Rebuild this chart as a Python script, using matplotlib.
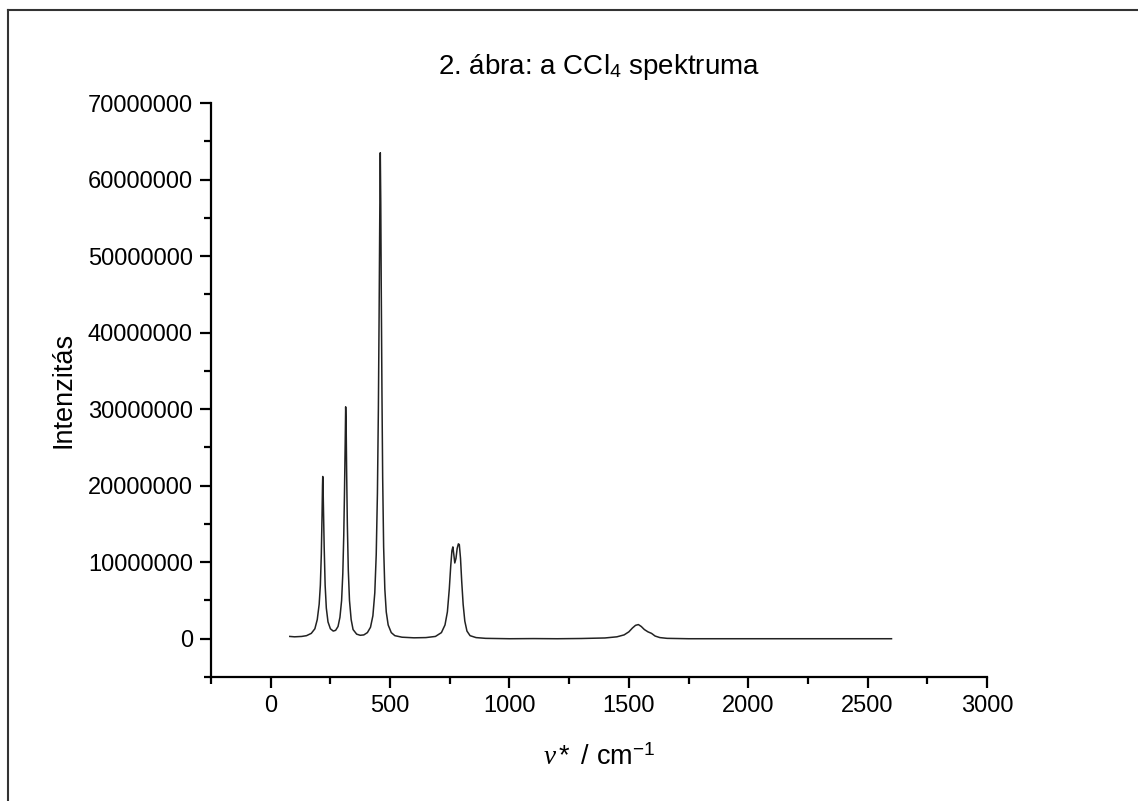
import matplotlib
matplotlib.use('Agg')
import matplotlib.pyplot as plt
from matplotlib.lines import Line2D
from matplotlib.ticker import MultipleLocator

plt.rcParams['font.family'] = ['Liberation Sans', 'DejaVu Sans']
plt.rcParams['mathtext.fontset'] = 'custom'
plt.rcParams['mathtext.rm'] = 'Liberation Sans'
plt.rcParams['mathtext.it'] = 'Liberation Serif:italic'

# wavenumber (cm-1) and intensity (millions)
wavenumber = [80, 100, 130, 150, 170, 185, 195, 203, 208, 212, 215, 217, 218, 219, 221, 224, 228, 233,
              240, 250, 262, 272, 282, 290, 297, 302, 306, 309, 312, 314, 316, 318, 321, 325, 330, 337,
              345, 360, 375, 390, 405, 418, 428, 436, 442, 447, 451, 454, 457, 459, 461, 463, 466, 469,
              473, 478, 484, 492, 505, 520, 550, 600, 650, 690, 715, 730, 740, 748, 754, 759, 763, 767,
              771, 776, 781, 786, 790, 795, 800, 806, 813, 822, 835, 860, 900, 1000, 1100, 1200, 1300,
              1400, 1450, 1480, 1500, 1515, 1528, 1540, 1552, 1565, 1580, 1595, 1610, 1630, 1660, 1750,
              2000, 2300, 2600]
intensity_m = [0.3, 0.25, 0.3, 0.4, 0.7, 1.3, 2.5, 4.5, 7.0, 11.0, 16.0, 20.0, 21.2, 20.5, 17.0, 12.0, 7.0, 4.0,
               2.2, 1.3, 1.0, 1.1, 1.6, 2.8, 5.0, 8.5, 13.5, 19.0, 25.5, 30.3, 28.0, 22.0, 15.0, 9.0, 5.0, 2.5,
               1.2, 0.6, 0.45, 0.5, 0.8, 1.5, 3.0, 6.0, 11.0, 19.0, 30.0, 42.0, 56.0, 63.5, 57.0, 46.0, 32.0, 21.0,
               12.0, 6.5, 3.5, 1.8, 0.8, 0.4, 0.2, 0.12, 0.15, 0.3, 0.8, 1.8, 3.5, 6.5, 9.5, 11.5, 12.0, 11.0,
               9.9, 10.5, 11.8, 12.4, 12.3, 10.5, 7.5, 4.5, 2.3, 1.0, 0.4, 0.15, 0.05, 0.0, 0.02, 0.0, 0.03,
               0.1, 0.25, 0.5, 0.9, 1.4, 1.75, 1.85, 1.6, 1.2, 0.9, 0.7, 0.35, 0.15, 0.05, 0.0,
               0.0, 0.0, 0.0]
intensity = [v * 1e6 for v in intensity_m]

fig = plt.figure(figsize=(11.38, 8.01), dpi=100)
ax = fig.add_axes([211 / 1138, 124 / 801, 776 / 1138, 574 / 801])

ax.plot(wavenumber, intensity, color='#222222', lw=1.1)

ax.set_xlim(-250, 3000)
ax.set_ylim(-5e6, 7e7)
ax.xaxis.set_major_locator(MultipleLocator(500))
ax.xaxis.set_minor_locator(MultipleLocator(250))
ax.yaxis.set_major_locator(MultipleLocator(1e7))
ax.yaxis.set_minor_locator(MultipleLocator(5e6))
ax.yaxis.set_major_formatter(matplotlib.ticker.FuncFormatter(lambda v, p: '%d' % v))
ax.xaxis.set_major_formatter(matplotlib.ticker.FuncFormatter(lambda v, p: '%d' % v))

for s in ['top', 'right']:
  ax.spines[s].set_visible(False)
for s in ['left', 'bottom']:
  ax.spines[s].set_linewidth(1.6)

ax.tick_params(which='major', direction='out', length=8, width=1.6, labelsize=17, pad=5)
ax.tick_params(which='minor', direction='out', length=5, width=1.6)

ax.set_title('2. ábra: a CCl$_4$ spektruma', fontsize=20, pad=21)
ax.set_ylabel('Intenzitás', fontsize=19.5, labelpad=8)
ax.set_xlabel(r'$\nu*$ / cm$^{-1}$', fontsize=19.5, labelpad=20)

# frame lines of the exported page
fig.add_artist(Line2D([8 / 1138, 8 / 1138], [0, 1 - 10 / 801], transform=fig.transFigure, color='#333333', lw=1.5))
fig.add_artist(Line2D([8 / 1138, 1], [1 - 10 / 801, 1 - 10 / 801], transform=fig.transFigure, color='#333333', lw=1.5))

fig.savefig('out.png', dpi=100)
